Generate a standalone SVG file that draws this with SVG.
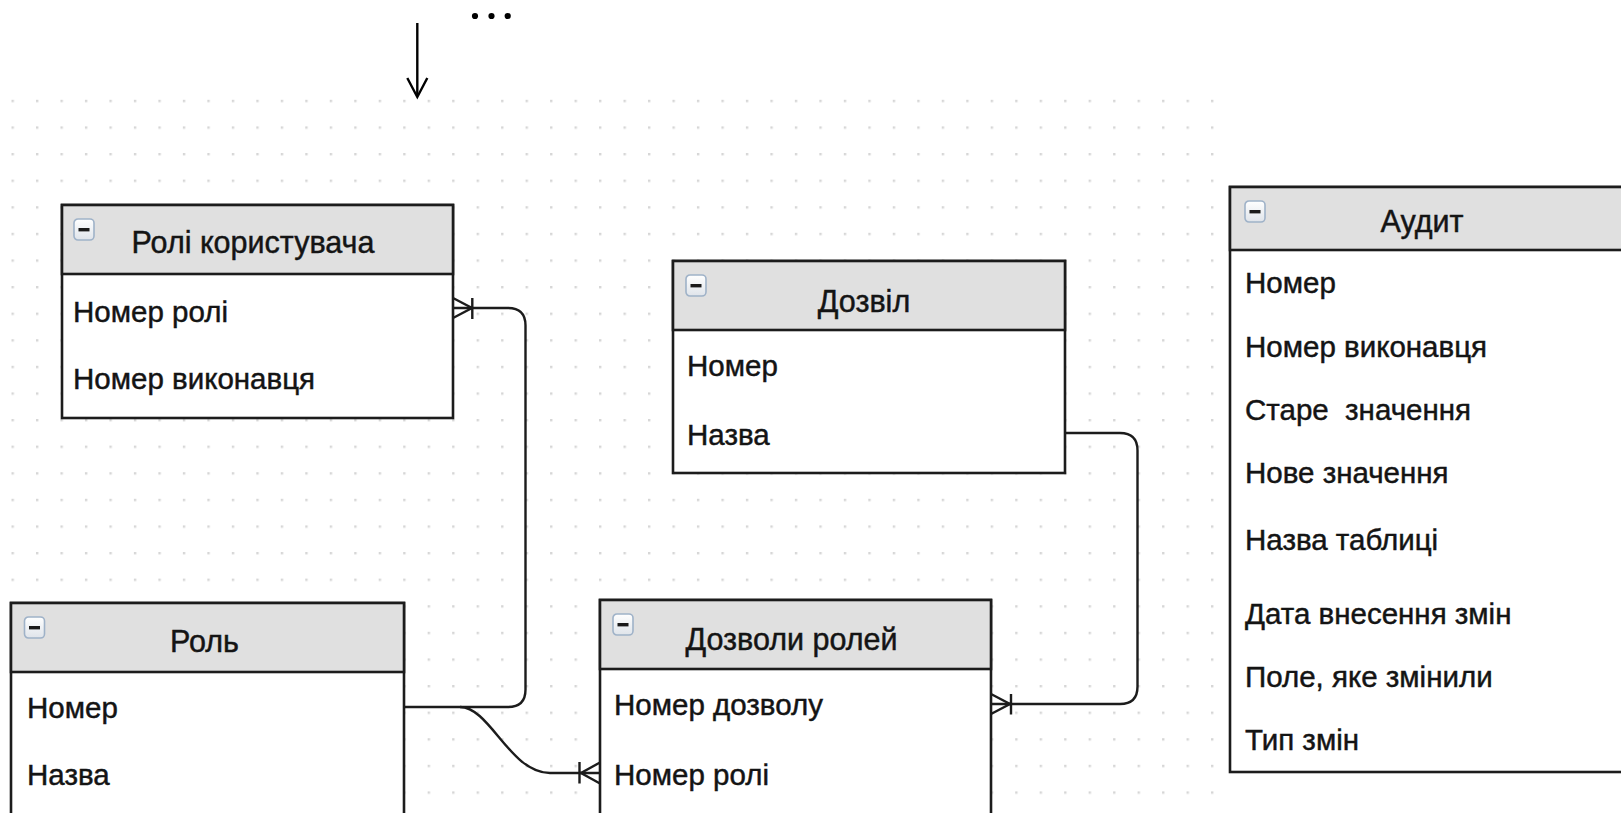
<svg xmlns="http://www.w3.org/2000/svg" xmlns:xlink="http://www.w3.org/1999/xlink" width="1621" height="813" viewBox="0 0 1621 813">
  <defs>
    <style>
      .box { fill: #ffffff; stroke: #1c1c1c; stroke-width: 2.6; }
      .head { fill: #e0e0e0; stroke: #1c1c1c; stroke-width: 2.6; }
      .title { font-family: "Liberation Sans", Arial, Helvetica, sans-serif; font-size: 30.5px; fill: #141414; stroke: #141414; stroke-width: 0.45; text-anchor: middle; }
      .row { font-family: "Liberation Sans", Arial, Helvetica, sans-serif; font-size: 29.5px; fill: #141414; stroke: #141414; stroke-width: 0.45; }
      .edge { fill: none; stroke: #1c1c1c; stroke-width: 2.4; }
      .foot { fill: none; stroke: #1c1c1c; stroke-width: 2.4; }
    </style>
    <pattern id="grid" patternUnits="userSpaceOnUse" x="11.5" y="99.8" width="24.48" height="26.6">
      <rect x="0" y="0" width="2.4" height="2.4" fill="#d6d6d6"/>
    </pattern>
    <linearGradient id="iconFill" x1="0" y1="0" x2="0" y2="1">
      <stop offset="0" stop-color="#ffffff"/>
      <stop offset="1" stop-color="#dfe4ea"/>
    </linearGradient>
    <!-- collapse toggle shown in each table header -->
    <g id="toggle">
      <rect x="0" y="0" width="20" height="21" rx="4" fill="url(#iconFill)" stroke="#9fb2c8" stroke-width="1.6"/>
      <rect x="4.5" y="9" width="11" height="3.4" fill="#1a1a1a"/>
    </g>
  </defs>

  <rect width="1621" height="813" fill="#ffffff"/>
  <!-- dotted canvas grid -->
  <rect x="0" y="99" width="1222" height="714" fill="url(#grid)"/>

  <!-- incoming arrow and ellipsis above the canvas -->
  <g id="incoming">
    <line x1="417.3" y1="23" x2="417.3" y2="96" stroke="#000" stroke-width="2.4"/>
    <polyline points="407.3,78 417.3,97 427.3,78" fill="none" stroke="#000" stroke-width="2.4"/>
    <circle cx="475" cy="16" r="3.1" fill="#000"/>
    <circle cx="491.5" cy="16" r="3.1" fill="#000"/>
    <circle cx="507.7" cy="16" r="3.1" fill="#000"/>
  </g>

  <!-- relationships -->
  <g id="connectors">
    <!-- Роль.Номер -> Ролі користувача.Номер ролі -->
    <path class="edge" d="M404 707 H508 Q525.5 707 525.5 689.5 V325.5 Q525.5 308 508 308 H453"/>
    <path class="foot" d="M453 298 L472 308 L453 318 M472.3 298 V319"/>
    <!-- Роль.Номер -> Дозволи ролей.Номер ролі -->
    <path class="edge" d="M460 707 C490 707 510 773 550 773 H600"/>
    <path class="foot" d="M600 762.5 L581 773 L600 783.5 M579.5 762 V783.5"/>
    <!-- Дозвіл.Назва -> Дозволи ролей.Номер дозволу -->
    <path class="edge" d="M1065 433 H1120 Q1137.5 433 1137.5 450.5 V686.5 Q1137.5 704 1120 704 H991"/>
    <path class="foot" d="M991 694 L1010 704 L991 714 M1011 694 V714.5"/>
  </g>

  <g id="user-roles">
    <rect class="box" x="62" y="205" width="391" height="213"/>
    <rect class="head" x="62" y="205" width="391" height="69"/>
    <use xlink:href="#toggle" x="74" y="219"/>
    <text class="title" x="253" y="253">Ролі користувача</text>
    <text class="row" x="73" y="322">Номер ролі</text>
    <text class="row" x="73" y="389">Номер виконавця</text>
  </g>

  <g id="permission">
    <rect class="box" x="673" y="261" width="392" height="212"/>
    <rect class="head" x="673" y="261" width="392" height="69"/>
    <use xlink:href="#toggle" x="686" y="275"/>
    <text class="title" x="864" y="312">Дозвіл</text>
    <text class="row" x="687" y="376">Номер</text>
    <text class="row" x="687" y="445">Назва</text>
  </g>

  <g id="role">
    <rect class="box" x="11" y="603" width="393" height="240"/>
    <rect class="head" x="11" y="603" width="393" height="69"/>
    <use xlink:href="#toggle" x="24.5" y="617"/>
    <text class="title" x="204.5" y="652">Роль</text>
    <text class="row" x="27" y="718">Номер</text>
    <text class="row" x="27" y="785">Назва</text>
  </g>

  <g id="role-permissions">
    <rect class="box" x="600" y="600" width="391" height="240"/>
    <rect class="head" x="600" y="600" width="391" height="69"/>
    <use xlink:href="#toggle" x="613" y="614"/>
    <text class="title" x="791.5" y="650">Дозволи ролей</text>
    <text class="row" x="614" y="715">Номер дозволу</text>
    <text class="row" x="614" y="785">Номер ролі</text>
  </g>

  <g id="audit">
    <rect class="box" x="1230" y="187" width="394" height="585"/>
    <rect class="head" x="1230" y="187" width="394" height="63"/>
    <use xlink:href="#toggle" x="1245" y="201"/>
    <text class="title" x="1422" y="232">Аудит</text>
    <text class="row" x="1245" y="293">Номер</text>
    <text class="row" x="1245" y="357">Номер виконавця</text>
    <text class="row" x="1245" y="420" xml:space="preserve">Старе  значення</text>
    <text class="row" x="1245" y="483">Нове значення</text>
    <text class="row" x="1245" y="550">Назва таблиці</text>
    <text class="row" x="1245" y="624">Дата внесення змін</text>
    <text class="row" x="1245" y="687">Поле, яке змінили</text>
    <text class="row" x="1245" y="750">Тип змін</text>
  </g>
</svg>
